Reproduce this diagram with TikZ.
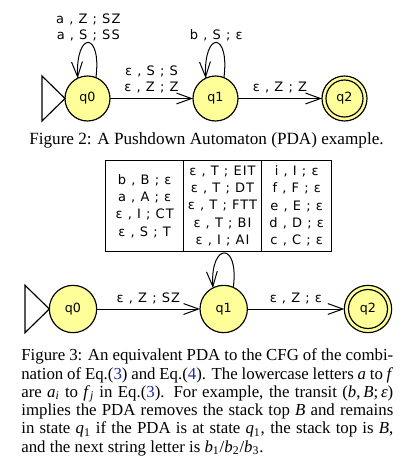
\documentclass[tikz,border=0pt]{standalone}
\usepackage{fontspec}
\setmainfont{Liberation Serif}
\newfontfamily\lblfont{DejaVu Sans}[LetterSpace=8]
\newfontfamily\stfont{DejaVu Sans}
\usetikzlibrary{arrows.meta}
\definecolor{stfill}{RGB}{255,255,153}
\definecolor{linkblue}{RGB}{30,40,170}
\newcommand\jline[1]{\makebox[223.2pt][s]{#1}}
\begin{document}
\begin{tikzpicture}[x=0.6pt,y=-0.6pt,
  state/.style={circle,draw,line width=0.7pt,fill=stfill,inner sep=0pt,outer sep=0pt,minimum size=27pt,font=\stfont\fontsize{7.6}{9}\selectfont},
  bstate/.style={state,minimum size=28.4pt},
  arr/.style={line width=0.6pt,-{Straight Barb[length=9pt,width=6.5pt]}},
  lbl/.style={inner sep=0pt,align=center,font=\lblfont\fontsize{7.8}{9.6}\selectfont},
  cell/.style={draw,line width=0.6pt,inner sep=0pt,minimum height=55pt,align=center,font=\lblfont\fontsize{7.8}{10.4}\selectfont},
  captext/.style={inner sep=0pt,anchor=base west,font=\fontsize{10.1}{11}\selectfont}]
\useasboundingbox (0,0) rectangle (412,476);
% ---------- Figure 2 ----------
\node[state] (a0) at (87.5,98.5) {q0};
\node[state] (a1) at (215.5,98.5) {q1};
\node[state] (a2) at (344.5,98.5) {q2};
\draw[line width=0.7pt] (a2) circle[radius=11.1pt];
\draw[line width=0.7pt] (a0.west) -- ++(-23,-22.5) -- ++(0,45) -- cycle;
\draw[arr] (a0) -- node[lbl,above=2.7pt] {ε , S ; S\\ε , Z ; Z} (a1);
\draw[arr] (a1) -- node[lbl,above=2.7pt] {ε , Z ; Z} (a2);
\draw[arr] (a0.68) .. controls +(6,-46) and +(-2,-48) .. (a0.116) node[lbl,above=0.5pt,pos=0.5] {a , Z ; SZ\\a , S ; SS};
\draw[arr] (a1.68) .. controls +(6,-46) and +(-2,-48) .. (a1.116) node[lbl,above=0.5pt,pos=0.5] {b , S ; ε};
\node[captext,anchor=base,font=\fontsize{10.29}{11}\selectfont] (cap2) at (206.5,144.3) {Figure 2: A Pushdown Automaton (PDA) example.};
% ---------- Figure 3 ----------
\node[cell,minimum width=46.4pt] (t1) at (144.65,205.85) {b , B ; ε\\a , A ; ε\\ε , I ; CT\\ε , S ; T};
\node[cell,minimum width=47pt] (t2) at (222.5,205.85) {ε , T ; EIT\\ε , T ; DT\\ε , T ; FTT\\ε , T ; BI\\ε , I ; AI};
\node[cell,minimum width=42pt] (t3) at (296.7,205.85) {i , I ; ε\\f , F ; ε\\e , E ; ε\\d , D ; ε\\c , C ; ε};
\node[bstate] (b0) at (73,309) {q0};
\node[bstate] (b1) at (223.7,309) {q1};
\node[bstate] (b2) at (368,309) {q2};
\draw[line width=0.7pt] (b2) circle[radius=11.7pt];
\draw[line width=0.7pt] (b0.west) -- ++(-24.3,-23.7) -- ++(0,47.4) -- cycle;
\draw[arr] (b0) -- node[lbl,above=2.7pt] {ε , Z ; SZ} (b1);
\draw[arr] (b1) -- node[lbl,above=2.7pt] {ε , Z ; ε} (b2);
\draw[arr] (b1.66) .. controls +(6,-46.5) and +(-3,-45.5) .. (b1.117);
\node[captext] (l1) at (21,360.7) {\jline{Figure 3: An equivalent PDA to the CFG of the combi-}};
\node[captext] (l2) at (21,379.0) {\jline{nation of Eq.(\textcolor{linkblue}{3}) and Eq.(\textcolor{linkblue}{4}). The lowercase letters \textit{a} to \textit{f}}};
\node[captext] (l3) at (21,397.3) {\jline{are \textit{a}\textsubscript{\textit{i}} to \textit{f}\textsubscript{\textit{j}} in Eq.(\textcolor{linkblue}{3}). For example, the transit (\textit{b},\,\textit{B};\,\textit{ε})}};
\node[captext] (l4) at (21,415.6) {\jline{implies the PDA removes the stack top \textit{B} and remains}};
\node[captext] (l5) at (21,433.9) {\jline{in state \textit{q}\textsubscript{1} if the PDA is at state \textit{q}\textsubscript{1}, the stack top is \textit{B},}};
\node[captext] (l6) at (21,452.2) {and the next string letter is \textit{b}\textsubscript{1}/\textit{b}\textsubscript{2}/\textit{b}\textsubscript{3}.};
\end{tikzpicture}
\end{document}
